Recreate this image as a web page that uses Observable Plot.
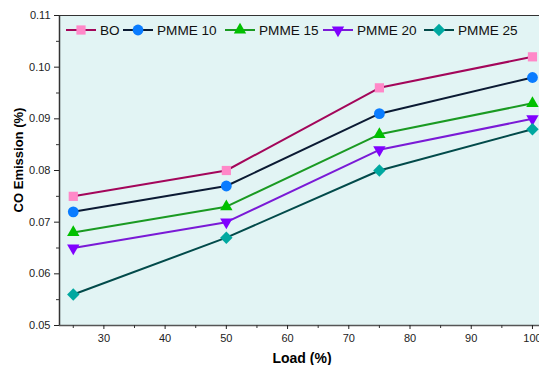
<!DOCTYPE html>
<html><head><meta charset="utf-8">
<script src="https://cdn.jsdelivr.net/npm/d3@7"></script>
<script src="https://cdn.jsdelivr.net/npm/@observablehq/plot@0.6"></script>
<style>body{margin:0;background:#fff}svg{font-family:"Liberation Sans",Arial,sans-serif}</style>
</head><body><div id="chart"></div>
<script>
const loads = [25, 50, 75, 100];
const seriesNames = ["BO", "PMME 10", "PMME 15", "PMME 20", "PMME 25"];
const BO = [0.075, 0.080, 0.096, 0.102];
const PMME10 = [0.072, 0.077, 0.091, 0.098];
const PMME15 = [0.068, 0.073, 0.087, 0.093];
const PMME20 = [0.065, 0.070, 0.084, 0.090];
const PMME25 = [0.056, 0.067, 0.080, 0.088];
const yTicks = [0.05, 0.06, 0.07, 0.08, 0.09, 0.10, 0.11];
const xTicks = [30, 40, 50, 60, 70, 80, 90, 100];

const lineColors = ["#a3065a", "#0b1a33", "#1a9a22", "#7a1ad6", "#024a4a"];
const markColors = ["#ff88c8", "#0a7cff", "#00c000", "#8000ff", "#00a8a0"];
const triDown = {draw(ctx, size) {
  const s = Math.sqrt(size / (Math.sqrt(3) / 4));
  const h = s * Math.sqrt(3) / 2;
  ctx.moveTo(0, h * 2 / 3); ctx.lineTo(s / 2, -h / 3); ctx.lineTo(-s / 2, -h / 3); ctx.closePath();
}};
const triUp = {draw(ctx, size) {
  const s = Math.sqrt(size / (Math.sqrt(3) / 4));
  const h = s * Math.sqrt(3) / 2;
  ctx.moveTo(0, -h * 2 / 3); ctx.lineTo(s / 2, h / 3); ctx.lineTo(-s / 2, h / 3); ctx.closePath();
}};
const symbols = ["square", "circle", triUp, triDown, "diamond2"];
const radii = [5.2, 5.4, 4.6, 4.6, 5.6];

const all = [BO, PMME10, PMME15, PMME20, PMME25];
const data = [];
all.forEach((vals, i) => vals.forEach((v, j) => data.push({series: seriesNames[i], si: i, load: loads[j], co: v})));

const xDom = [22.75, 101.15];
const yDom = [0.05, 0.11];
const minorX = d3.range(25, 101, 5).filter(d => d % 10 !== 0);
const minorY = d3.range(0.055, 0.11, 0.01);

const marks = [
  Plot.frame({fill: "#e2f4f4", stroke: null}),
  Plot.ruleY([0.11], {stroke: "#333", strokeWidth: 1.2}),
  Plot.ruleY([0.05], {stroke: "#555", strokeWidth: 1.5}),
  Plot.ruleX([xDom[0]], {stroke: "#333", strokeWidth: 1.5}),
  Plot.axisY(yTicks, {tickFormat: d3.format(".2f"), tickSize: 5, tickPadding: 4, fontSize: 11, color: "#222", label: null}),
  Plot.axisY(minorY, {tickFormat: () => "", tickSize: 3, color: "#333", label: null}),
  Plot.axisX(xTicks, {tickSize: 4, tickPadding: 5, fontSize: 11, color: "#222", label: null}),
  Plot.axisX(minorX, {tickFormat: () => "", tickSize: 3, color: "#333", label: null}),
];
seriesNames.forEach((name, i) => {
  const d = data.filter(r => r.si === i);
  marks.push(Plot.line(d, {x: "load", y: "co", stroke: lineColors[i], strokeWidth: 2}));
  marks.push(Plot.dot(d, {x: "load", y: "co", fill: markColors[i], stroke: "none", symbol: symbols[i], r: radii[i]}));
});

const chart = Plot.plot({
  width: 539, height: 365,
  marginTop: 15, marginBottom: 40, marginLeft: 59, marginRight: 0,
  x: {domain: xDom},
  y: {domain: yDom},
  style: {fontFamily: "Liberation Sans, Arial, sans-serif", background: "#fff"},
  marks
});
const svg = d3.select(chart);
svg.append("text").attr("x", 302).attr("y", 363).attr("text-anchor", "middle")
  .attr("font-size", 14).attr("font-weight", "bold").attr("fill", "#000").text("Load (%)");
svg.append("text").attr("transform", "translate(23,160) rotate(-90)").attr("text-anchor", "middle")
  .attr("font-size", 13).attr("font-weight", "bold").attr("fill", "#000").text("CO Emission (%)");
// legend
const legX = [66, 123, 225, 323, 424];
const legY = 30;
const symGen = [d3.symbolSquare, d3.symbolCircle, triUp, triDown, d3.symbolDiamond2];
const lg = svg.append("g").attr("text-anchor", "start");
seriesNames.forEach((name, i) => {
  const x0 = legX[i];
  lg.append("line").attr("x1", x0).attr("x2", x0 + 30).attr("y1", legY).attr("y2", legY)
    .attr("stroke", lineColors[i]).attr("stroke-width", 2);
  lg.append("path").attr("transform", `translate(${x0 + 15},${legY})`)
    .attr("d", d3.symbol(symGen[i], Math.PI * radii[i] * radii[i])()).attr("fill", markColors[i]);
  lg.append("text").attr("x", x0 + 34).attr("y", legY).attr("dy", "0.35em").attr("text-anchor", "start")
    .attr("font-size", 13.6).attr("fill", "#111").text(name);
});
document.getElementById("chart").append(chart);
</script></body></html>
